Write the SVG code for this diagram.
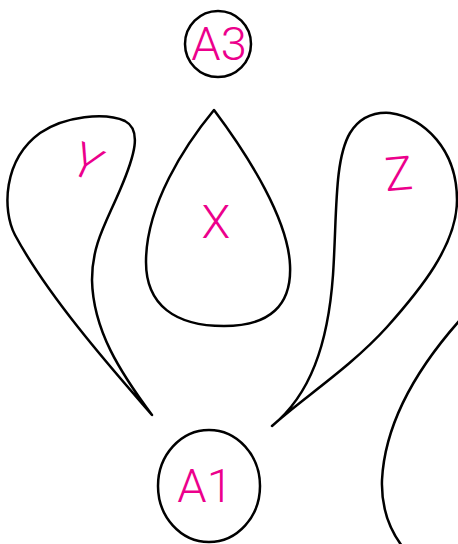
<svg xmlns="http://www.w3.org/2000/svg" width="458" height="544" viewBox="0 0 458 544">
<style>
.s{fill:none;stroke:#000;stroke-width:2.5;stroke-linejoin:round}
.t{font-family:"Roboto","Liberation Sans",Arial,sans-serif;font-weight:300;font-size:47px;fill:#EC008C;text-anchor:middle}
</style>
<rect width="458" height="544" fill="#fff"/>
<g id="connectors">
<path id="Y" class="s" d="M152,415 C120,378 50,300 15,235 C2,210 3,160 40,133 C65,116 105,112 125,121 C142,130 135,155 120,190 C105,225 92,245 92,280 C93,330 120,372 152,415 Z"/>
<path id="X" class="s" d="M214,110 C185,145 146,205 146,262 C146,305 175,326 224,326 C270,326 292,305 290,265 C288,220 250,158 214,110 Z"/>
<path id="Z" class="s" d="M272,426 C310,395 328,345 333,275 C337,215 334,160 350,133 C360,117 375,112 390,113 C425,118 457,150 457,200 C457,245 420,290 387,327 C350,368 300,400 272,426 Z"/>
<path id="W" class="s" d="M460,320 C420,365 385,420 382,480 C381,510 390,530 402,546"/>
</g>
<g id="A3">
<circle class="s" cx="218" cy="44" r="33"/>
<text class="t" x="219" y="60">A3</text>
</g>
<g id="A1">
<ellipse class="s" cx="209" cy="486" rx="51" ry="56"/>
<text class="t" x="205" y="502">A1</text>
</g>
<g id="labels">
<text class="t" x="216" y="238">X</text>
<text class="t" transform="translate(80,177) rotate(25)">Y</text>
<text class="t" transform="translate(400,190) rotate(-5)">Z</text>
</g>
</svg>
